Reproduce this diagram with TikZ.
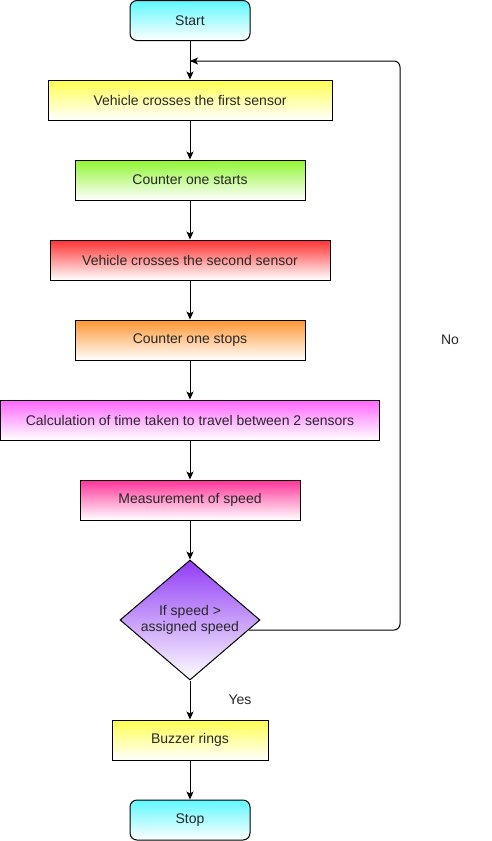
\documentclass[tikz,border=0pt]{standalone}
\usepackage{fontspec}
\setmainfont{Liberation Sans}
\usetikzlibrary{shapes.geometric,arrows.meta,calc}
\definecolor{cyanF}{RGB}{96,248,255}
\definecolor{yellowF}{RGB}{255,255,80}
\definecolor{greenF}{RGB}{145,245,50}
\definecolor{redF}{RGB}{255,50,50}
\definecolor{orangeF}{RGB}{255,150,50}
\definecolor{magentaF}{RGB}{255,102,255}
\definecolor{pinkF}{RGB}{255,51,153}
\definecolor{purpleF}{RGB}{145,60,245}
\definecolor{txt}{RGB}{40,40,40}
\tikzset{
  box/.style={draw=black, line width=1pt, rectangle, minimum height=40pt, inner sep=0pt,
    font=\fontsize{14}{16}\selectfont, text=txt, bottom color=white},
  term/.style={box, rounded corners=7pt, minimum width=120pt, top color=cyanF},
  conn/.style={line width=1pt, -{Stealth[length=8pt,width=7pt,inset=2pt]}},
  lbl/.style={font=\fontsize{14}{16}\selectfont, text=txt},
}
\begin{document}
\begin{tikzpicture}[x=1pt,y=-1pt]
\useasboundingbox (0,0) rectangle (491,841);
\node[term] (start) at (190,20.5) {Start};
\node[box, minimum width=284pt, top color=yellowF] (s1) at (190,100) {Vehicle crosses the first sensor};
\node[box, minimum width=230pt, top color=greenF] (c1) at (190,180) {Counter one starts};
\node[box, minimum width=280pt, top color=redF] (s2) at (190,260) {Vehicle crosses the second sensor};
\node[box, minimum width=230pt, top color=orangeF] (c2) at (190,340) {Counter one stops};
\node[box, minimum width=379pt, top color=magentaF] (calc) at (190,420) {Calculation of time taken to travel between 2 sensors};
\node[box, shape=diamond, minimum width=140pt, minimum height=120pt, inner sep=-6pt, top color=purpleF,
  align=center, font=\fontsize{14}{16}\selectfont] (dia) at (190,620) {If speed \textgreater\\assigned speed};
\node[box, minimum width=220pt, top color=pinkF] (meas) at (190,500) {Measurement of speed};
\node[box, minimum width=156pt, top color=yellowF] (buz) at (190,740) {Buzzer rings};
\node[term] (stop) at (190,820) {Stop};
\coordinate (join) at (190,61);
\coordinate (lp) at ($(dia.east)!0.1667!(dia.south)$);
\draw[line width=1pt] (start) -- (join);
\draw[conn] (join) -- (s1);
\draw[conn] (s1) -- (c1);
\draw[conn] (c1) -- (s2);
\draw[conn] (s2) -- (c2);
\draw[conn] (c2) -- (calc);
\draw[conn] (calc) -- (meas);
\draw[conn] (meas) -- (dia);
\draw[conn] (dia) -- (buz);
\draw[conn] (buz) -- (stop);
\draw[conn, rounded corners=6pt] (lp) -- (400,630) -- (400,61) -- (join);
\node[lbl] (no) at (450,340) {No};
\node[lbl] (yes) at (240,700) {Yes};
\end{tikzpicture}
\end{document}
